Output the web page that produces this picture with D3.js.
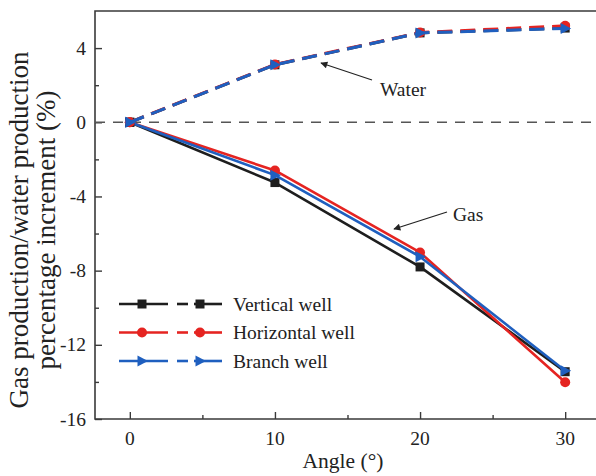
<!DOCTYPE html>
<html>
<head>
<meta charset="utf-8">
<script src="https://cdn.jsdelivr.net/npm/d3@7"></script>
<style>
  html, body { margin: 0; padding: 0; background: #fff; }
  svg { display: block; font-family: "Liberation Serif", "DejaVu Serif", serif; }
</style>
</head>
<body>
<svg id="chart" width="596" height="476"></svg>
<script>
// angles (°)
const angles = [0, 10, 20, 30];

// gas production increment (%), solid lines
const gasVertical   = [0, -3.25, -7.8, -13.45];
const gasHorizontal = [0, -2.6, -7.02, -14.02];
const gasBranch     = [0, -2.85, -7.25, -13.4];

// water production increment (%), dashed lines
const waterVertical   = [0, 3.1, 4.82, 5.08];
const waterHorizontal = [0, 3.12, 4.84, 5.2];
const waterBranch     = [0, 3.1, 4.82, 5.06];

const seriesNames = ['Vertical well', 'Horizontal well', 'Branch well'];
const seriesColors = ['#1e1e1e', '#e52421', '#1f5fbf'];
const seriesMarkers = ['square', 'circle', 'triangle'];

const yTicks = [-16, -12, -8, -4, 0, 4];
const yMinor = [-14, -10, -6, -2, 2];
const xTicks = [0, 10, 20, 30];
const xMinor = [5, 15, 25];

const svg = d3.select('#chart');
const x = d3.scaleLinear().domain([-2.4, 32.4]).range([95, 600]);
const y = d3.scaleLinear().domain([-16, 6]).range([419, 11]);

function label(g, tx, ty, size, str, anchor) {
  return g.append('text')
    .attr('x', tx).attr('y', ty)
    .attr('text-anchor', anchor || 'start')
    .attr('font-size', size).attr('fill', '#222')
    .text(str);
}

// frame (right side is cut off by the picture)
svg.append('path')
  .attr('d', `M${x(32.4)},${y(6)}H${x(-2.4)}V${y(-16)}H${x(32.4)}`)
  .attr('fill', 'none').attr('stroke', '#3a3a3a').attr('stroke-width', 1.6);

// y axis ticks (inward)
const yAxis = svg.append('g').attr('transform', `translate(${x(-2.4)},0)`);
yAxis.call(d3.axisRight(y).tickValues(yTicks).tickSize(7).tickFormat(''));
yAxis.append('g').call(d3.axisRight(y).tickValues(yMinor).tickSize(4).tickFormat(''));
yAxis.selectAll('.domain').remove();
yAxis.selectAll('line').attr('stroke', '#3a3a3a').attr('stroke-width', 1.4);
const yLab = svg.append('g');
yTicks.forEach(d => label(yLab, 86, y(d) + 6.5, 19.5, d, 'end'));

// x axis ticks (inward)
const xAxis = svg.append('g').attr('transform', `translate(0,${y(-16)})`);
xAxis.call(d3.axisTop(x).tickValues(xTicks).tickSize(7).tickFormat(''));
xAxis.append('g').call(d3.axisTop(x).tickValues(xMinor).tickSize(4).tickFormat(''));
xAxis.selectAll('.domain').remove();
xAxis.selectAll('line').attr('stroke', '#3a3a3a').attr('stroke-width', 1.4);
const xLab = svg.append('g');
xTicks.forEach(d => label(xLab, x(d), 445, 19.5, d, 'middle'));

// axis titles
label(svg, 343, 468, 21.5, 'Angle (°)', 'middle');
const yt = svg.append('text').attr('transform', 'translate(0,230) rotate(-90)')
  .attr('text-anchor', 'middle').attr('font-size', 27).attr('fill', '#222');
yt.append('tspan').attr('x', 0).attr('y', 28).text('Gas production/water production');
yt.append('tspan').attr('x', 0).attr('y', 55).text('percentage increment (%)');

// zero reference line
svg.append('line')
  .attr('x1', x(-2.4)).attr('x2', x(32.4)).attr('y1', y(0)).attr('y2', y(0))
  .attr('stroke', '#555').attr('stroke-width', 1.3).attr('stroke-dasharray', '10,8');

function marker(g, type, color, cx, cy) {
  if (type === 'square') {
    g.append('rect').attr('x', cx - 4.5).attr('y', cy - 4.5).attr('width', 9).attr('height', 9).attr('fill', color);
  } else if (type === 'circle') {
    g.append('circle').attr('cx', cx).attr('cy', cy).attr('r', 5).attr('fill', color);
  } else {
    g.append('path').attr('d', `M${cx - 4.5},${cy - 5.5}L${cx + 6},${cy}L${cx - 4.5},${cy + 5.5}Z`).attr('fill', color);
  }
}

const line = d3.line().x((d, i) => x(angles[i])).y(d => y(d));
const gasData = [gasVertical, gasHorizontal, gasBranch];
const waterData = [waterVertical, waterHorizontal, waterBranch];
const plot = svg.append('g');

gasData.forEach((vals, k) => {
  plot.append('path').attr('d', line(vals)).attr('fill', 'none')
    .attr('stroke', seriesColors[k]).attr('stroke-width', 2.6).attr('stroke-linejoin', 'round');
  vals.forEach((v, i) => marker(plot, seriesMarkers[k], seriesColors[k], x(angles[i]), y(v)));
});
waterData.forEach((vals, k) => {
  plot.append('path').attr('d', line(vals)).attr('fill', 'none')
    .attr('stroke', seriesColors[k]).attr('stroke-width', 3).attr('stroke-dasharray', '15,8');
  vals.forEach((v, i) => marker(plot, seriesMarkers[k], seriesColors[k], x(angles[i]), y(v)));
});

// annotations
const defs = svg.append('defs');
defs.append('marker').attr('id', 'arr').attr('viewBox', '0 0 10 10').attr('refX', 9).attr('refY', 5)
  .attr('markerWidth', 9).attr('markerHeight', 7).attr('markerUnits', 'userSpaceOnUse').attr('orient', 'auto')
  .append('path').attr('d', 'M0,0L10,5L0,10Z').attr('fill', '#222');
svg.append('line').attr('x1', 372).attr('y1', 80).attr('x2', 321).attr('y2', 63)
  .attr('stroke', '#222').attr('stroke-width', 1.3).attr('marker-end', 'url(#arr)');
label(svg, 380, 96, 19.5, 'Water');
svg.append('line').attr('x1', 447).attr('y1', 212).attr('x2', 394).attr('y2', 229)
  .attr('stroke', '#222').attr('stroke-width', 1.3).attr('marker-end', 'url(#arr)');
label(svg, 453, 221, 19.5, 'Gas');

// legend
const legend = svg.append('g');
seriesNames.forEach((name, k) => {
  const ly = 304 + k * 28.5;
  const c = seriesColors[k];
  legend.append('line').attr('x1', 119).attr('x2', 168).attr('y1', ly).attr('y2', ly)
    .attr('stroke', c).attr('stroke-width', 2.6);
  marker(legend, seriesMarkers[k], c, 142, ly);
  legend.append('line').attr('x1', 177).attr('x2', 188).attr('y1', ly).attr('y2', ly)
    .attr('stroke', c).attr('stroke-width', 2.6);
  legend.append('line').attr('x1', 194).attr('x2', 222).attr('y1', ly).attr('y2', ly)
    .attr('stroke', c).attr('stroke-width', 2.6);
  marker(legend, seriesMarkers[k], c, 200, ly);
  label(legend, 233, ly + 6.5, 19.5, name);
});
</script>
</body>
</html>
